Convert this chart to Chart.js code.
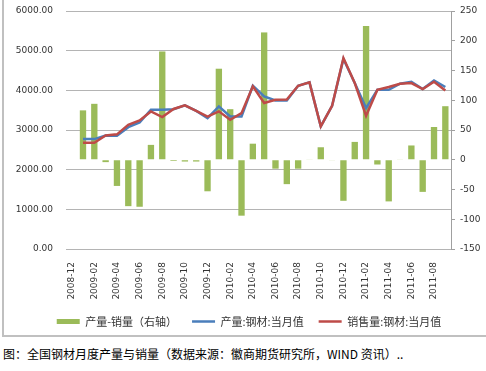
<!DOCTYPE html>
<html>
<head>
<meta charset="utf-8">
<script src="https://cdn.jsdelivr.net/npm/chart.js@4.4.1/dist/chart.umd.min.js"></script>
<style>
    body { margin: 0; background: #fff; }
    #wrap { position: absolute; left: 0; top: 0; width: 486px; height: 338px; }
    #caption {
        position: absolute; left: 3px; top: 345px;
        font-family: "Noto Sans CJK SC", sans-serif; font-size: 12px; color: #000;
        white-space: nowrap;
    }
</style>
</head>
<body>
<div id="wrap"><canvas id="steelChart" width="486" height="338"></canvas></div>
<div id="caption">图：全国钢材月度产量与销量（数据来源：徽商期货研究所，WIND 资讯）..</div>
<script>
// months, 2008-12 has no data
const months = [
    '2008-12', '2009-01', '2009-02', '2009-03', '2009-04', '2009-05', '2009-06', '2009-07',
    '2009-08', '2009-09', '2009-10', '2009-11', '2009-12', '2010-01', '2010-02', '2010-03',
    '2010-04', '2010-05', '2010-06', '2010-07', '2010-08', '2010-09', '2010-10', '2010-11',
    '2010-12', '2011-01', '2011-02', '2011-03', '2011-04', '2011-05', '2011-06', '2011-07',
    '2011-08', '2011-09'
];

// 产量-销量 (right axis)
const diffValues = [
    null, 83, 94, -4, -44, -78, -79, 25, 182, -2, -3, -3, -53, 153, 85, -94,
    27, 214, -15, -41, -15, 1, 21, -1, -69, 30, 225, -8, -70, 1, 24, -54, 55, 90
];

// 产量:钢材:当月值
const outputValues = [
    null, 2770, 2770, 2862, 2855, 3072, 3190, 3510, 3510, 3525, 3620, 3480, 3300, 3595, 3340, 3340,
    4116, 3846, 3745, 3745, 4116, 4200, 3090, 3611, 4790, 4183, 3552, 4015, 4015, 4167, 4217, 4032,
    4250, 4083
];

// 销售量:钢材:当月值
const salesValues = [
    null, 2677, 2677, 2862, 2890, 3131, 3240, 3468, 3325, 3530, 3620, 3480, 3340, 3470, 3257, 3425,
    4100, 3680, 3760, 3770, 4116, 4200, 3090, 3611, 4815, 4183, 3358, 4015, 4083, 4167, 4183, 4032,
    4217, 3998
];

const leftTicks = [0, 1000, 2000, 3000, 4000, 5000, 6000];
const rightTicks = [-150, -100, -50, 0, 50, 100, 150, 200, 250];

const tickFont = { family: 'DejaVu Sans', size: 9 };

// grey frame on the left and bottom, like the pasted Excel chart
const framePlugin = {
    id: 'frame',
    afterDraw(chart) {
        const c = chart.ctx;
        c.save();
        c.strokeStyle = '#c0c0c0';
        c.lineWidth = 2;
        c.beginPath();
        c.moveTo(3, 0);
        c.lineTo(3, 336);
        c.lineTo(486, 336);
        c.stroke();
        c.restore();
    }
};

const ctx = document.getElementById('steelChart').getContext('2d');

new Chart(ctx, {
    data: {
        labels: months,
        datasets: [{
            type: 'bar',
            label: '产量-销量（右轴）',
            data: diffValues,
            yAxisID: 'y1',
            backgroundColor: '#9bbb59',
            borderWidth: 0,
            categoryPercentage: 1,
            barPercentage: 0.56,
            order: 3
        }, {
            type: 'line',
            label: '产量:钢材:当月值',
            data: outputValues,
            yAxisID: 'y',
            borderColor: '#4a7ebb',
            backgroundColor: '#4a7ebb',
            borderWidth: 2.5,
            pointRadius: 0,
            tension: 0,
            order: 2
        }, {
            type: 'line',
            label: '销售量:钢材:当月值',
            data: salesValues,
            yAxisID: 'y',
            borderColor: '#be4b48',
            backgroundColor: '#be4b48',
            borderWidth: 2.5,
            pointRadius: 0,
            tension: 0,
            order: 1
        }]
    },
    options: {
        responsive: false,
        animation: false,
        layout: { padding: { top: 11, bottom: 1, left: 12, right: 0 } },
        scales: {
            x: {
                offset: true,
                grid: { display: false },
                border: { display: false },
                afterFit(s) { s.height = 52; },
                ticks: {
                    autoSkip: false,
                    minRotation: 90,
                    maxRotation: 90,
                    padding: 5,
                    color: '#333',
                    font: tickFont,
                    callback: function (v, i) { return i % 2 === 0 ? months[i] : ''; }
                }
            },
            y: {
                position: 'left',
                min: leftTicks[0],
                max: leftTicks[leftTicks.length - 1],
                afterFit(s) { s.width = 54; },
                afterBuildTicks(s) { s.ticks = leftTicks.map(v => ({ value: v })); },
                // invisible tick marks keep the label gap without extra top padding
                grid: { color: '#b4b4b4', lineWidth: 1, drawTicks: true, tickLength: 13, tickColor: 'rgba(0,0,0,0)' },
                border: { display: false },
                ticks: {
                    padding: 0,
                    color: '#333',
                    font: tickFont,
                    callback: v => v.toFixed(2)
                }
            },
            y1: {
                position: 'right',
                min: rightTicks[0],
                max: rightTicks[rightTicks.length - 1],
                afterFit(s) { s.width = 35; },
                afterBuildTicks(s) { s.ticks = rightTicks.map(v => ({ value: v })); },
                grid: { drawOnChartArea: false, drawTicks: true, tickLength: 4, color: '#a0a0a0' },
                border: { display: true, color: '#a0a0a0', width: 1 },
                ticks: {
                    padding: 5,
                    color: '#333',
                    font: tickFont
                }
            }
        },
        plugins: {
            title: { display: false },
            tooltip: { enabled: false },
            legend: {
                display: true,
                position: 'bottom',
                labels: {
                    usePointStyle: true,
                    pointStyleWidth: 23,
                    boxHeight: 5,
                    padding: 15,
                    color: '#333',
                    font: { family: 'Noto Sans CJK SC', size: 11 },
                    generateLabels: function (chart) {
                        const items = Chart.defaults.plugins.legend.labels.generateLabels(chart);
                        items.forEach(item => {
                            item.pointStyle = item.datasetIndex === 0 ? 'rect' : 'line';
                        });
                        return items;
                    },
                    sort: (a, b) => a.datasetIndex - b.datasetIndex
                }
            }
        }
    },
    plugins: [framePlugin]
});
</script>
</body>
</html>
